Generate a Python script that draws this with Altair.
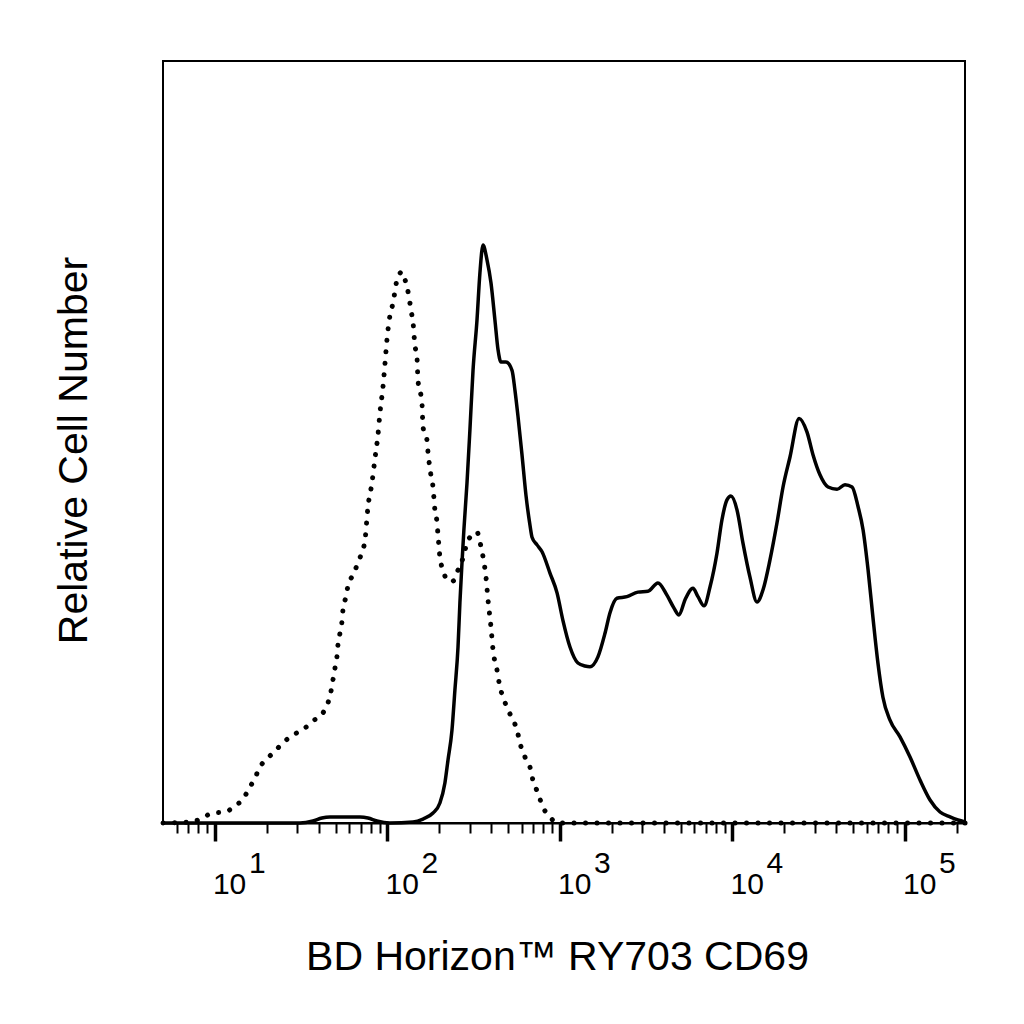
import altair as alt
import pandas as pd

# ---- data (x as log10 intensity, y as relative count 0-100) ----
solid_log = [0.699, 1.493, 1.568, 1.620, 1.667, 1.754, 1.841, 1.887, 1.939, 2.014,
             2.148, 2.206, 2.264, 2.304, 2.333, 2.351, 2.374, 2.391, 2.409, 2.420,
             2.432, 2.443, 2.461, 2.478, 2.496, 2.519, 2.536, 2.554, 2.577, 2.600,
             2.623, 2.641, 2.658, 2.687, 2.722, 2.739, 2.757, 2.780, 2.803, 2.826,
             2.838, 2.867, 2.896, 2.942, 2.983, 3.017, 3.058, 3.104, 3.145, 3.174,
             3.220, 3.261, 3.290, 3.330, 3.388, 3.452, 3.510, 3.568, 3.620, 3.661,
             3.690, 3.725, 3.771, 3.800, 3.835, 3.870, 3.910, 3.939, 3.968, 3.991,
             4.026, 4.061, 4.101, 4.142, 4.177, 4.217, 4.258, 4.293, 4.333, 4.386,
             4.432, 4.467, 4.507, 4.554, 4.606, 4.652, 4.693, 4.728, 4.757, 4.786,
             4.814, 4.843, 4.872, 4.913, 4.971, 5.029, 5.087, 5.145, 5.203, 5.261,
             5.307, 5.348]
solid_count = [0.0, 0.0, 0.26, 0.66, 0.79, 0.79, 0.79, 0.66, 0.26, 0.0,
               0.13, 0.52, 1.31, 2.62, 5.25, 8.27, 12.2, 17.45, 23.1, 28.9,
               34.1, 38.45, 44.6, 51.6, 59.4, 66.0, 72.2, 75.85, 73.9, 70.9,
               66.0, 62.1, 60.5, 60.5, 59.4, 56.8, 53.3, 48.3, 43.0, 39.1,
               37.5, 36.5, 35.6, 32.8, 30.2, 26.6, 23.1, 21.0, 20.6, 20.5,
               21.8, 24.9, 27.6, 29.5, 29.7, 30.3, 30.4, 31.5, 29.9, 28.2,
               27.3, 29.3, 30.8, 29.7, 28.5, 31.0, 35.4, 39.8, 42.4, 42.9,
               41.1, 36.7, 32.3, 29.0, 30.6, 34.5, 39.4, 44.1, 48.0, 53.1,
               51.3, 48.3, 45.7, 44.1, 43.8, 44.4, 44.1, 41.5, 38.45, 33.2,
               27.0, 21.0, 16.5, 13.5, 11.3, 8.66, 5.64, 3.02, 1.44, 0.79,
               0.39, 0.13]

dotted_log = [0.699, 0.867, 0.925, 0.988, 1.058, 1.116, 1.162, 1.203, 1.232, 1.261,
              1.307, 1.359, 1.406, 1.464, 1.522, 1.568, 1.626, 1.655, 1.672, 1.684,
              1.696, 1.707, 1.713, 1.725, 1.736, 1.742, 1.759, 1.771, 1.800, 1.829,
              1.852, 1.870, 1.887, 1.910, 1.928, 1.945, 1.957, 1.974, 1.986, 1.997,
              2.014, 2.032, 2.043, 2.055, 2.084, 2.107, 2.125, 2.136, 2.148, 2.159,
              2.171, 2.177, 2.200, 2.206, 2.229, 2.235, 2.252, 2.264, 2.275, 2.287,
              2.293, 2.304, 2.322, 2.351, 2.380, 2.409, 2.438, 2.461, 2.490, 2.519,
              2.536, 2.554, 2.571, 2.583, 2.600, 2.612, 2.635, 2.652, 2.670, 2.699,
              2.728, 2.751, 2.768, 2.797, 2.826, 2.843, 2.872, 2.901, 2.942, 2.983,
              5.348]
dotted_count = [0.0, 0.13, 0.66, 1.31, 1.44, 2.23, 3.15, 4.72, 5.91, 7.35,
                8.53, 9.71, 10.76, 11.68, 12.47, 13.39, 14.44, 15.75, 17.19, 18.77,
                20.34, 21.78, 23.36, 24.93, 26.38, 27.95, 29.66, 31.10, 32.55, 34.12,
                35.56, 37.14, 41.47, 44.62, 47.90, 50.92, 53.94, 57.22, 60.37, 63.39,
                66.54, 68.24, 69.69, 71.26, 72.31, 70.87, 69.03, 67.32, 65.75, 62.73,
                61.15, 58.14, 55.12, 51.97, 50.26, 48.69, 45.67, 44.09, 41.08, 39.50,
                37.80, 34.91, 33.20, 31.76, 31.76, 33.20, 34.78, 36.75, 37.80, 38.19,
                36.88, 34.91, 32.28, 29.27, 25.72, 22.70, 20.08, 17.85, 16.54, 14.83,
                13.52, 12.20, 10.50, 8.66, 7.35, 5.64, 3.94, 2.10, 0.79, 0.0,
                0.0]

major_ticks = [10, 100, 1000, 10000, 100000]
minor_ticks = [6, 7, 8, 9,
               20, 30, 40, 50, 60, 70, 80, 90,
               200, 300, 400, 500, 600, 700, 800, 900,
               2000, 3000, 4000, 5000, 6000, 7000, 8000, 9000,
               20000, 30000, 40000, 50000, 60000, 70000, 80000, 90000,
               200000]
tick_base = ["10", "10", "10", "10", "10"]
tick_exponent = ["1", "2", "3", "4", "5"]

x_domain = [5.0, 222700.0]

FONT = "Liberation Sans"

solid_df = pd.DataFrame({"intensity": [10 ** v for v in solid_log],
                         "count": solid_count,
                         "order": list(range(len(solid_log)))})
dotted_df = pd.DataFrame({"intensity": [10 ** v for v in dotted_log],
                          "count": dotted_count,
                          "order": list(range(len(dotted_log)))})
label_df = pd.DataFrame({"tick": major_ticks, "base": tick_base, "exp": tick_exponent})

major_test = "indexof([10, 100, 1000, 10000, 100000], datum.value) >= 0"

x_axis = alt.Axis(
    values=major_ticks + minor_ticks,
    labels=False,
    grid=False,
    domainColor="black",
    domainWidth=2,
    tickColor="black",
    tickSize={"condition": {"test": major_test, "value": 18}, "value": 10},
    tickWidth={"condition": {"test": major_test, "value": 3.5}, "value": 2},
    title="BD Horizon™ RY703 CD69",
    titleFont=FONT,
    titleFontSize=41,
    titleFontWeight="normal",
    titleColor="black",
    titleX=394,
    titleY=146,
    titleAlign="center",
    titleBaseline="alphabetic",
)
y_axis = alt.Axis(
    labels=False,
    ticks=False,
    domain=False,
    grid=False,
    title="Relative Cell Number",
    titleFont=FONT,
    titleFontSize=41,
    titleFontWeight="normal",
    titleColor="black",
    titleX=-77,
    titleY=389,
    titleAngle=270,
    titleAlign="center",
    titleBaseline="alphabetic",
)

x_scale = alt.Scale(type="log", domain=x_domain, nice=False)
y_scale = alt.Scale(domain=[0, 100], nice=False)

solid_line = alt.Chart(solid_df).mark_line(
    color="black", strokeWidth=3.5, interpolate="monotone"
).encode(
    x=alt.X("intensity:Q", scale=x_scale, axis=x_axis),
    y=alt.Y("count:Q", scale=y_scale, axis=y_axis),
    order="order:Q",
)

dotted_line = alt.Chart(dotted_df).mark_line(
    color="black", strokeWidth=5, strokeDash=[0.1, 11.4], strokeCap="round",
    interpolate="monotone"
).encode(
    x=alt.X("intensity:Q", scale=x_scale),
    y=alt.Y("count:Q", scale=y_scale),
    order="order:Q",
)

base_labels = alt.Chart(label_df).mark_text(
    font=FONT, fontSize=30, align="left", baseline="alphabetic", color="black", dx=-2
).encode(
    x=alt.X("tick:Q", scale=x_scale),
    y=alt.value(833),
    text="base:N",
)

exp_labels = alt.Chart(label_df).mark_text(
    font=FONT, fontSize=30, align="left", baseline="alphabetic", color="black", dx=34
).encode(
    x=alt.X("tick:Q", scale=x_scale),
    y=alt.value(812),
    text="exp:N",
)

chart = alt.layer(dotted_line, solid_line, base_labels, exp_labels).properties(
    width=802,
    height=762,
    padding={"left": 155, "top": 53, "right": 51, "bottom": 195},
    autosize=alt.AutoSizeParams(type="none"),
    background="white",
).configure_view(
    stroke="black",
    strokeWidth=2,
)

chart.save("out.html", embed_options={"renderer": "svg", "actions": False})
